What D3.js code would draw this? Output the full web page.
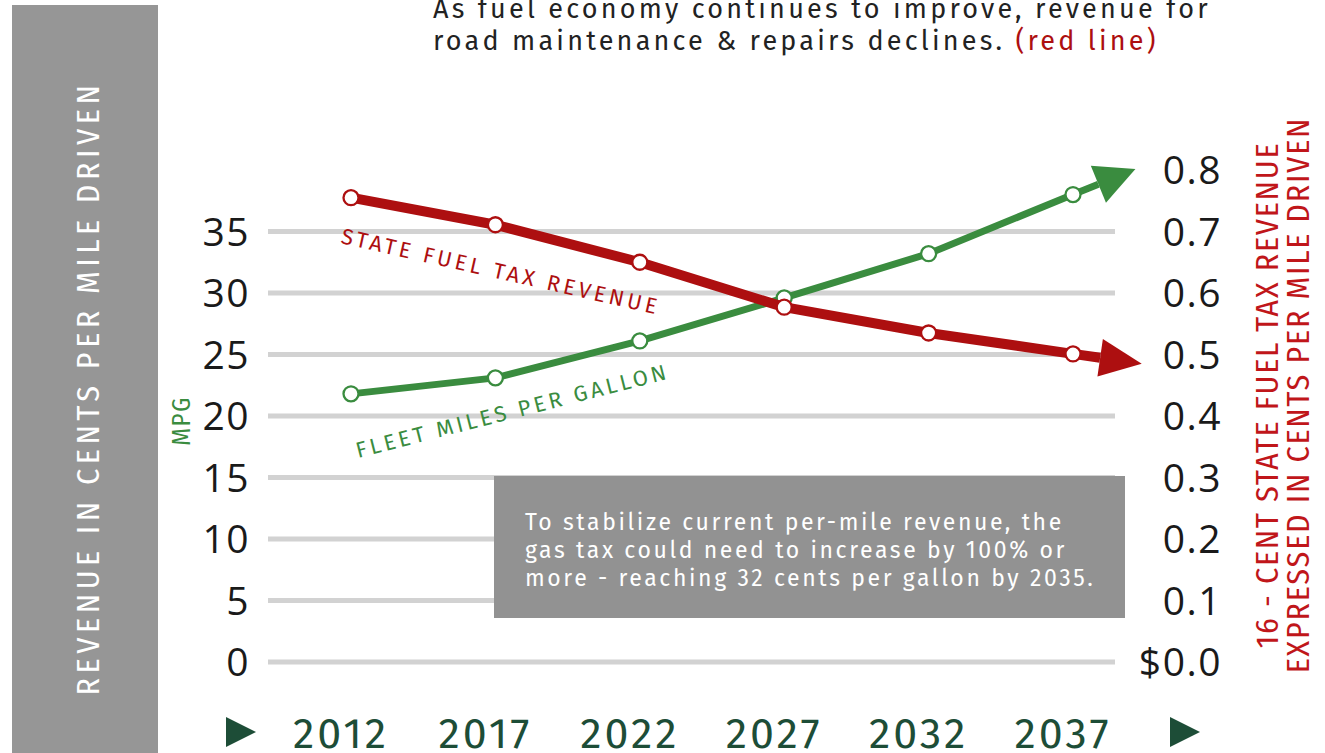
<!DOCTYPE html>
<html>
<head>
<meta charset="utf-8">
<script src="https://cdn.jsdelivr.net/npm/d3@7"></script>
<style>
  body { margin: 0; background: #fff; }
  svg { display: block; }
  .grid line { stroke: #d2d2d2; stroke-width: 5; }
  .tick-lbl { font-family: 'Open Sans', sans-serif; font-size: 39px; fill: #1a1a1a; letter-spacing: 1.5px; }
  .cond { font-family: 'Fira Sans Condensed', 'Liberation Sans Narrow', 'DejaVu Sans Condensed', sans-serif; }
  .reg { font-family: 'Fira Sans', 'Open Sans', sans-serif; }
</style>
</head>
<body>
<div id="chart"></div>
<script>
const years = [2012, 2017, 2022, 2027, 2032, 2037];
const mpg = [21.8, 23.1, 26.1, 29.6, 33.2, 38.0];
const revenue = [0.755, 0.711, 0.65, 0.577, 0.535, 0.501];
const leftTicks = [0, 5, 10, 15, 20, 25, 30, 35];
const rightTicks = [0, 0.1, 0.2, 0.3, 0.4, 0.5, 0.6, 0.7, 0.8];

const W = 1325, H = 753;
const RED = '#ad0f10', GREEN = '#3a8c3f', DARKGREEN = '#1d4d37';

const svg = d3.select('#chart').append('svg').attr('width', W).attr('height', H);

const x = d3.scalePoint().domain(years).range([351, 1073]);
const yL = d3.scaleLinear().domain([0, 40]).range([662, 170]);
const yR = d3.scaleLinear().domain([0, 0.8]).range([662, 170]);

// left grey panel
svg.append('rect').attr('x', 12).attr('y', 5).attr('width', 146).attr('height', H - 5).attr('fill', '#969696');
svg.append('text')
  .attr('class', 'cond')
  .attr('transform', 'translate(99,388) rotate(-90)')
  .attr('text-anchor', 'middle')
  .attr('fill', '#fff')
  .attr('font-size', 32)
  .attr('letter-spacing', 4.6)
  .text('REVENUE IN CENTS PER MILE DRIVEN');

// title
const title = svg.append('text').attr('class', 'reg').attr('font-size', 27).attr('letter-spacing', 3.2).attr('fill', '#222');
title.append('tspan').attr('x', 433).attr('y', 18).text('As fuel economy continues to improve, revenue for');
title.append('tspan').attr('x', 433).attr('y', 50).text('road maintenance & repairs declines. ');
title.append('tspan').attr('fill', RED).text('(red line)');

// gridlines
svg.append('g').attr('class', 'grid')
  .selectAll('line').data(leftTicks).join('line')
  .attr('x1', 268).attr('x2', 1115)
  .attr('y1', d => yL(d)).attr('y2', d => yL(d));

// left axis labels
svg.append('g').selectAll('text').data(leftTicks).join('text')
  .attr('class', 'tick-lbl')
  .attr('x', 250).attr('y', d => yL(d)).attr('dy', '0.36em')
  .attr('text-anchor', 'end')
  .text(d => d);

// right axis labels
svg.append('g').selectAll('text').data(rightTicks).join('text')
  .attr('class', 'tick-lbl')
  .attr('x', 1222).attr('y', d => yR(d)).attr('dy', '0.36em')
  .attr('text-anchor', 'end')
  .text(d => (d === 0 ? '$0.0' : d3.format('.1f')(d)));

// MPG label
svg.append('text')
  .attr('class', 'cond')
  .attr('transform', 'translate(190,421) rotate(-90)')
  .attr('text-anchor', 'middle')
  .attr('fill', GREEN).attr('font-size', 25).attr('letter-spacing', 1.5)
  .text('MPG');

// right axis title
const rt = svg.append('text')
  .attr('class', 'cond')
  .attr('transform', 'translate(1278,395) rotate(-90)')
  .attr('text-anchor', 'middle')
  .attr('fill', '#c0161a').attr('font-size', 32).attr('letter-spacing', 1.8);
rt.append('tspan').attr('x', 0).attr('y', 0).text('16 - CENT STATE FUEL TAX REVENUE');
rt.append('tspan').attr('x', 0).attr('y', 31).text('EXPRESSED IN CENTS PER MILE DRIVEN');

// annotation box
svg.append('rect').attr('x', 494).attr('y', 476).attr('width', 631).attr('height', 142).attr('fill', '#929292');
const note = svg.append('text').attr('class', 'reg').attr('fill', '#fff').attr('font-size', 23).attr('letter-spacing', 2.6);
['To stabilize current per-mile revenue, the',
 'gas tax could need to increase by 100% or',
 'more - reaching 32 cents per gallon by 2035.'].forEach((t, i) => {
  note.append('tspan').attr('x', 525).attr('y', 530 + i * 28).text(t);
});

// series with arrow extensions along the last segment
function drawSeries(vals, yScale, color, width, headLen, headHalf) {
  const pts = years.map((yr, i) => [x(yr), yScale(vals[i])]);
  const n = pts.length;
  const a = pts[n - 2], b = pts[n - 1];
  const dx = b[0] - a[0], dy = b[1] - a[1];
  const len = Math.hypot(dx, dy);
  const ux = dx / len, uy = dy / len;
  const ext = 0.19 * x.step();
  const base = [b[0] + ux * ext, b[1] + uy * ext];
  const tip = [base[0] + ux * headLen, base[1] + uy * headLen];
  svg.append('path')
    .datum(pts.concat([base]))
    .attr('d', d3.line())
    .attr('fill', 'none').attr('stroke', color).attr('stroke-width', width)
    .attr('stroke-linejoin', 'round');
  svg.append('path')
    .attr('d', d3.line()([
      tip,
      [base[0] - uy * headHalf, base[1] + ux * headHalf],
      [base[0] + uy * headHalf, base[1] - ux * headHalf]
    ]) + 'Z')
    .attr('fill', color);
  svg.append('g').selectAll('circle').data(pts).join('circle')
    .attr('cx', d => d[0]).attr('cy', d => d[1]).attr('r', 7.5)
    .attr('fill', '#fff').attr('stroke', color).attr('stroke-width', 2.3);
}
drawSeries(mpg, yL, GREEN, 7, 40, 20);
drawSeries(revenue, yR, RED, 10, 42, 19);

// series labels
svg.append('text')
  .attr('class', 'reg')
  .attr('transform', 'translate(340,243) rotate(12.7)')
  .attr('fill', RED).attr('font-size', 22).attr('letter-spacing', 3.6)
  .text('STATE FUEL TAX REVENUE');
svg.append('text')
  .attr('class', 'reg')
  .attr('transform', 'translate(358,458) rotate(-14.3)')
  .attr('fill', GREEN).attr('font-size', 22).attr('letter-spacing', 3.4)
  .text('FLEET MILES PER GALLON');

// x axis labels
svg.append('g').selectAll('text').data(years).join('text')
  .attr('class', 'reg')
  .attr('x', d => x(d) - 10).attr('y', 748)
  .attr('text-anchor', 'middle')
  .attr('font-size', 43).attr('letter-spacing', 3).attr('fill', DARKGREEN)
  .text(d => d);

// x axis arrows
[[226, 717], [1170, 717]].forEach(([ax, ay]) => {
  svg.append('path')
    .attr('d', `M${ax},${ay}L${ax + 30},${ay + 15}L${ax},${ay + 30}Z`)
    .attr('fill', DARKGREEN);
});
</script>
</body>
</html>
